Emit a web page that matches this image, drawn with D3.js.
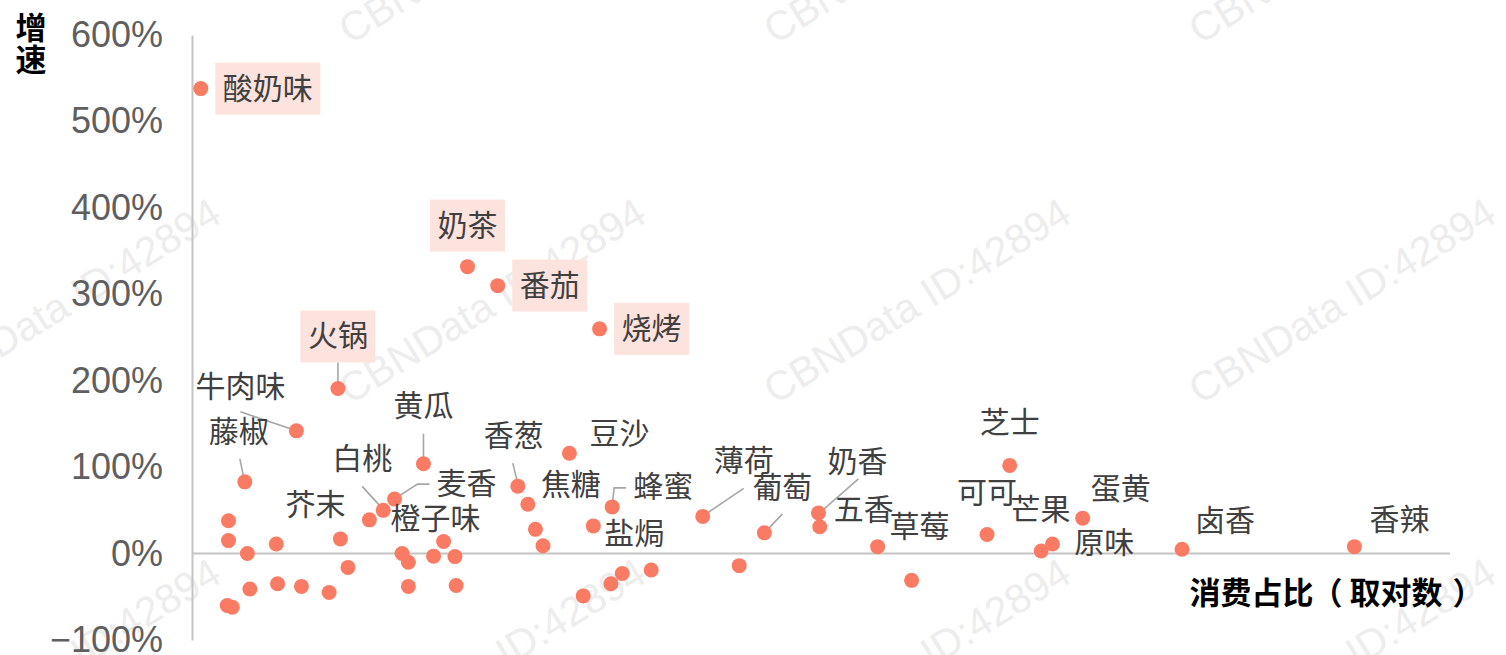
<!DOCTYPE html>
<html>
<head>
<meta charset="utf-8">
<script src="https://cdn.jsdelivr.net/npm/d3@7"></script>
<style>
    body { margin: 0; background: #fff; }
    svg { display: block; }
</style>
</head>
<body>
<div id="chart"></div>
<script>
// flavours, log consumption share (relative units) and growth (%)
var flavours = ["酸奶味", "奶茶", "番茄", "烧烤", "火锅", "牛肉味", "黄瓜", "藤椒", "麦香", "白桃",
    "芥末", "橙子味", "豆沙", "香葱", "焦糖", "蜂蜜", "盐焗", "薄荷", "葡萄", "奶香",
    "五香", "草莓", "芝士", "可可", "蛋黄", "芒果", "原味", "卤香", "香辣",
    "", "", "", "", "", "", "", "", "", "",
    "", "", "", "", "", "", "", "", "", "",
    "", "", "", "", "", ""];
var shareLog = [0.7, 21.9, 24.3, 32.4, 11.6, 8.3, 18.4, 4.2, 16.1, 15.2,
    11.8, 20.0, 30.0, 25.9, 26.7, 33.4, 31.9, 40.6, 45.5, 49.8,
    49.9, 54.5, 65.0, 63.2, 70.8, 68.4, 67.5, 78.7, 92.4,
    2.9, 2.9, 4.4, 6.7, 4.6, 6.8, 8.7, 10.9, 2.8, 3.2,
    14.1, 12.4, 16.7, 17.2, 17.2, 19.2, 20.9, 21.0, 27.3, 27.9,
    36.5, 34.2, 33.3, 31.1, 43.5, 57.2];
var growth = [538, 332, 310, 260, 191, 142, 104, 83, 63, 50,
    17, 14, 116, 78, 57, 54, 32, 43, 24, 47,
    31, 8, 102, 22, 41, 11, 3, 5, 8,
    38, 15, 0, 11, -41, -35, -38, -45, -60, -62,
    39, -16, 0, -10, -38, -3, -3.5, -37, 28, 9,
    -19, -23, -35, -49, -14, -31];
var yTicks = [-100, 0, 100, 200, 300, 400, 500, 600];
var xTitle = ["消", "费", "占", "比", "（", "取", "对", "数", "）"];

// highlighted flavours get a pink box
var highlighted = ["酸奶味", "奶茶", "番茄", "烧烤", "火锅"];

// label placement relative to the dot: centre offset and optional leader line
var labelLayout = {
    "酸奶味": { dx: 67, dy: 0 },
    "奶茶": { dx: 0, dy: -41 },
    "番茄": { dx: 52, dy: 0 },
    "烧烤": { dx: 52, dy: 0 },
    "火锅": { dx: 0, dy: -52, leader: [[0, -26], [0, -7]] },
    "牛肉味": { dx: -56, dy: -44, leader: [[-56, -19], [0, 0]] },
    "藤椒": { dx: -6, dy: -50, leader: [[-5, -23], [-1, -4]] },
    "黄瓜": { dx: 0, dy: -58, leader: [[0, -30], [0, -3]] },
    "白桃": { dx: -21, dy: -51, leader: [[-21, -24], [-1, -2]] },
    "麦香": { dx: 72, dy: -15, leader: [[35, -15], [23, -15], [1, -1]] },
    "芥末": { dx: -25, dy: -34 },
    "橙子味": { dx: -8, dy: -22 },
    "香葱": { dx: -4, dy: -50, leader: [[-5, -23], [0, -2]] },
    "豆沙": { dx: 50, dy: -19 },
    "焦糖": { dx: 43, dy: -19 },
    "蜂蜜": { dx: 51, dy: -20, leader: [[14, -19], [2, -19], [0, -2]] },
    "盐焗": { dx: 41, dy: 8 },
    "薄荷": { dx: 41, dy: -55, leader: [[41, -28], [1, -1]] },
    "葡萄": { dx: 18, dy: -45, leader: [[18, -19], [1, -1]] },
    "奶香": { dx: 39, dy: -51, leader: [[40, -34], [1, 0]] },
    "五香": { dx: 44, dy: -17 },
    "草莓": { dx: 42, dy: -20 },
    "芝士": { dx: 0, dy: -42 },
    "可可": { dx: 0, dy: -42 },
    "蛋黄": { dx: 38, dy: -29 },
    "芒果": { dx: -12, dy: -34 },
    "原味": { dx: 63, dy: -8 },
    "卤香": { dx: 43, dy: -28 },
    "香辣": { dx: 45, dy: -27 }
};
// character offsets for the x axis title (wider gaps around the brackets)
var xTitleOffsets = [0, 31, 62, 93, 122, 160, 191, 222, 263];

var width = 1506, height = 655;
var dotColor = "#fa7b63";
var cjkFont = "'Noto Sans CJK SC', sans-serif";
var textShift = -3; // central baseline sits a bit low for this font

var svg = d3.select("#chart").append("svg")
    .attr("width", width)
    .attr("height", height);

// faint watermark tiles
var marks = svg.append("g");
[-140, 220, 580].forEach(function(ty) {
    [-75, 350, 775, 1200].forEach(function(tx) {
        marks.append("text")
            .attr("transform", "translate(" + tx + "," + (ty + 185) + ") rotate(-31.7)")
            .attr("font-family", "'Liberation Sans', Arial, sans-serif")
            .attr("font-size", 41)
            .attr("fill", "#ededed")
            .text("CBNData ID:42894");
    });
});

// scales
var x = d3.scaleLinear().domain([0, 100]).range([192, 1450]);
var y = d3.scaleLinear().domain([-100, 600]).range([640, 35]);

// y axis with percentage labels, no tick marks
var yAxis = d3.axisLeft(y)
    .tickValues(yTicks)
    .tickSize(0)
    .tickPadding(29)
    .tickFormat(function(d) { return (d < 0 ? "\u2212" + (-d) : d) + "%"; });

var gy = svg.append("g")
    .attr("transform", "translate(" + x(0) + ",0)")
    .call(yAxis);
gy.select(".domain").attr("stroke", "#c4c4c4").attr("stroke-width", 2);
gy.selectAll("text")
    .attr("font-family", "'Liberation Sans', Arial, sans-serif")
    .attr("font-size", 36)
    .attr("fill", "#5f5f5f");

// zero line as x axis
svg.append("line")
    .attr("x1", x(0)).attr("x2", x(100))
    .attr("y1", y(0)).attr("y2", y(0))
    .attr("stroke", "#c4c4c4")
    .attr("stroke-width", 2);

// axis titles
["增", "速"].forEach(function(c, i) {
    svg.append("text")
        .attr("x", 31).attr("y", 28 + i * 32 + textShift)
        .attr("text-anchor", "middle")
        .attr("dominant-baseline", "central")
        .attr("font-family", cjkFont)
        .attr("font-weight", "bold")
        .attr("font-size", 31)
        .text(c);
});
svg.append("g").selectAll("text")
    .data(xTitle)
    .enter().append("text")
    .attr("x", function(d, i) { return 1205 + xTitleOffsets[i]; })
    .attr("y", 593 + textShift)
    .attr("text-anchor", "middle")
    .attr("dominant-baseline", "central")
    .attr("font-family", cjkFont)
    .attr("font-weight", "bold")
    .attr("font-size", 31)
    .text(function(d) { return d; });

var points = flavours.map(function(name, i) {
    return { name: name, share: shareLog[i], growth: growth[i] };
});

// leader lines
var line = d3.line();
points.forEach(function(d) {
    var lay = labelLayout[d.name];
    if (!lay || !lay.leader) return;
    var cx = x(d.share), cy = y(d.growth);
    svg.append("path")
        .attr("d", line(lay.leader.map(function(p) { return [cx + p[0], cy + p[1]]; })))
        .attr("fill", "none")
        .attr("stroke", "#a6a6a6")
        .attr("stroke-width", 1.6);
});

// dots
svg.append("g").selectAll("circle")
    .data(points)
    .enter().append("circle")
    .attr("cx", function(d) { return x(d.share); })
    .attr("cy", function(d) { return y(d.growth); })
    .attr("r", 7.5)
    .attr("fill", dotColor);

// labels
var labels = svg.append("g");
points.forEach(function(d) {
    var lay = labelLayout[d.name];
    if (!lay) return;
    var lx = x(d.share) + lay.dx, ly = y(d.growth) + lay.dy;
    var g = labels.append("g");
    g.append("text")
        .attr("x", lx).attr("y", ly + textShift)
        .attr("text-anchor", "middle")
        .attr("dominant-baseline", "central")
        .attr("font-family", cjkFont)
        .attr("font-size", 30)
        .attr("fill", "#404040")
        .text(d.name);
    if (highlighted.indexOf(d.name) >= 0) {
        var w = d.name.length * 30 + 15;
        g.insert("rect", "text")
            .attr("x", lx - w / 2).attr("y", ly - 26)
            .attr("width", w).attr("height", 52)
            .attr("fill", "#fde3de");
    }
});
</script>
</body>
</html>
